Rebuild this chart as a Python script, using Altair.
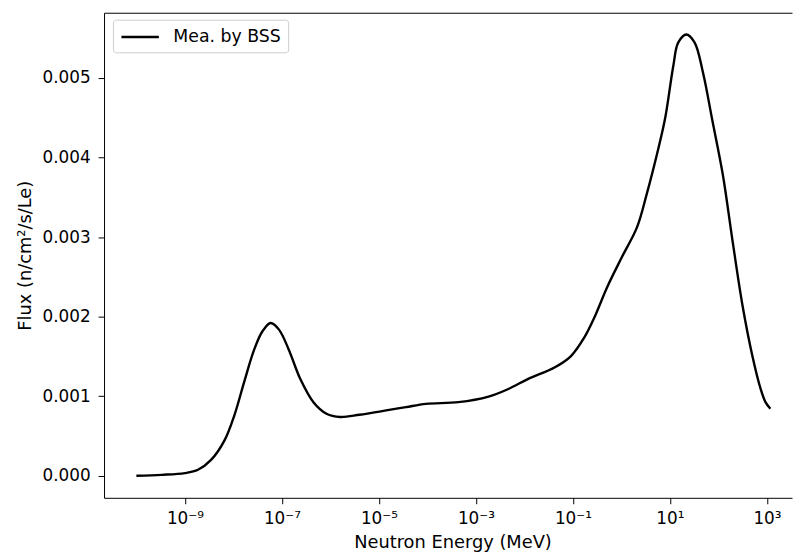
import altair as alt
import pandas as pd

# ---- data ----
log_energy = [-10.0, -9.48, -9.0, -8.73, -8.46, -8.18, -7.98, -7.78, -7.57, -7.40,
              -7.23, -7.06, -6.86, -6.62, -6.35, -6.08, -5.80, -5.40, -4.85, -4.44,
              -4.03, -3.36, -2.74, -2.33, -1.93, -1.38, -1.04, -0.77, -0.565, -0.29,
              0.01, 0.32, 0.52, 0.73, 0.90, 1.07, 1.17, 1.34, 1.51, 1.68,
              1.88, 2.09, 2.29, 2.50, 2.70, 2.87, 2.97, 3.07]
flux = [0.0, 0.000012, 0.000034, 0.000075, 0.000199, 0.000448, 0.000759, 0.001174, 0.001588, 0.001816,
        0.001920, 0.001837, 0.001588, 0.001215, 0.000925, 0.000780, 0.000739, 0.000767, 0.000821, 0.000863,
        0.000904, 0.000925, 0.000995, 0.001091, 0.001215, 0.001361, 0.001505, 0.001734, 0.00198, 0.002376,
        0.002749, 0.003122, 0.003537, 0.004035, 0.00449, 0.005154, 0.005444, 0.005547, 0.005444, 0.005071,
        0.004449, 0.003786, 0.002956, 0.002127, 0.001505, 0.001091, 0.000925, 0.000842]
series_name = "Mea. by BSS"

x_tick_exponents = [-9, -7, -5, -3, -1, 1, 3]
x_tick_labels = ["10⁻⁹", "10⁻⁷", "10⁻⁵", "10⁻³", "10⁻¹", "10¹", "10³"]
y_ticks = [0.0, 0.001, 0.002, 0.003, 0.004, 0.005]

df = pd.DataFrame({
    "energy": [10 ** v for v in log_energy],
    "flux": flux,
    "series": [series_name] * len(flux),
})

labels_js = "[" + ",".join("'" + s + "'" for s in x_tick_labels) + "]"
label_expr = labels_js + "[round((log(datum.value)/LN10 + 9)/2)]"

FONT = "DejaVu Sans"
x_scale = alt.Scale(type="log", domain=[10 ** -10.667, 10 ** 3.517], nice=False)
y_scale = alt.Scale(domain=[-0.000277, 0.00582], nice=False, zero=False)

base = alt.Chart(df)

line = base.mark_line(strokeWidth=2.4, interpolate="catmull-rom").encode(
    x=alt.X("energy:Q", scale=x_scale,
            axis=alt.Axis(values=[10.0 ** e for e in x_tick_exponents], labelExpr=label_expr,
                          title="Neutron Energy (MeV)", grid=False, labelPadding=7,
                          titleX=352, titleY=50, titleBaseline="alphabetic")),
    y=alt.Y("flux:Q", scale=y_scale,
            axis=alt.Axis(values=y_ticks, format=".3f", title="Flux (n/cm²/s/Le)",
                          grid=False, labelPadding=8, titlePadding=8)),
    color=alt.Color("series:N", scale=alt.Scale(range=["black"]),
                    legend=alt.Legend(title=None, orient="none", legendX=9, legendY=7,
                                      symbolType="M-2.1,0H2.1", symbolSize=324,
                                      symbolOffset=10, symbolStrokeWidth=2.4,
                                      labelFontSize=17.5, labelFont=FONT, labelOffset=23,
                                      padding=7, strokeColor="#cccccc", fillColor="white",
                                      cornerRadius=3, labelColor="black")),
)

top_spine = base.mark_line(opacity=0).encode(
    x=alt.X("energy:Q", scale=x_scale,
            axis=alt.Axis(orient="top", labels=False, ticks=False, title=None,
                          grid=False, domain=True)),
)

chart = alt.layer(line, top_spine).resolve_axis(x="independent").properties(
    width=695, height=490,
    padding={"left": 97, "top": 2, "right": 2, "bottom": 56},
    autosize=alt.AutoSizeParams(type="none"),
).configure_view(stroke=None).configure_axis(
    domainColor="black", tickColor="black", labelColor="black", titleColor="black",
    domainWidth=1, tickWidth=1, tickSize=6,
    labelFontSize=17, titleFontSize=18, titleFontWeight="normal",
    labelFont=FONT, titleFont=FONT,
)

chart.save("out.html", embed_options={"renderer": "svg", "actions": False})
